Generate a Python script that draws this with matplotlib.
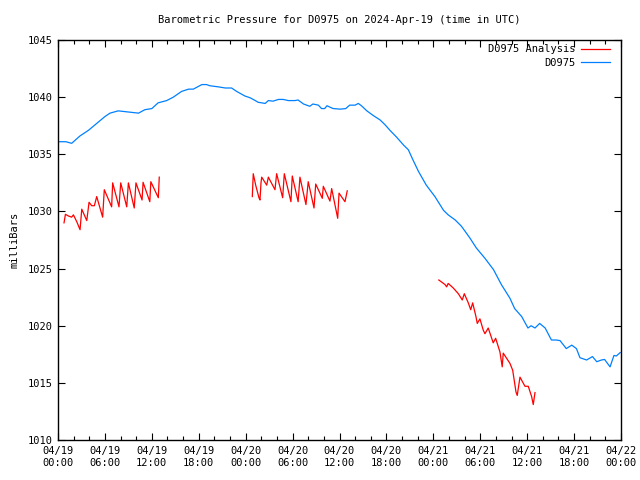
import numpy as np
import matplotlib
matplotlib.use("Agg")
import matplotlib.pyplot as plt

# Hours since 2024-04-19 00:00 UTC
blue_hours = [0.0, 0.26, 1.0, 1.75, 2.8, 3.9, 4.95, 6.0, 6.65, 7.7, 9.0, 10.3, 11.1, 12.0,
              12.8, 13.9, 14.75, 15.8, 16.7, 17.3, 18.4, 19.0, 19.4, 20.5, 21.4, 22.2,
              22.85, 23.9, 24.55, 25.1, 25.6, 26.5, 26.9, 27.5, 28.2, 28.8, 29.45, 30.3,
              30.7, 31.4, 32.2, 32.6, 33.3, 33.7, 34.1, 34.4, 34.85, 35.2, 36.1, 36.8,
              37.3, 38.0, 38.4, 38.8, 39.5, 40.3, 41.2, 41.8, 42.45, 43.3, 44.2, 44.8,
              45.4, 46.1, 47.1, 48.2, 49.3, 49.9, 50.8, 51.6, 52.7, 53.5, 54.6, 55.7,
              56.7, 57.8, 58.4, 59.3, 60.1, 60.5, 61.0, 61.6, 62.3, 63.1, 63.7, 64.2,
              65.0, 65.7, 66.3, 66.75, 67.6, 68.35, 68.9, 69.5, 69.9, 70.6, 71.1, 71.4,
              71.9]
blue_values = [1036.1, 1036.1, 1036.1, 1035.96, 1036.6, 1037.1, 1037.7, 1038.3, 1038.6,
               1038.8, 1038.7, 1038.6, 1038.9, 1039.0, 1039.5, 1039.7, 1040.0, 1040.5,
               1040.7, 1040.7, 1041.1, 1041.1, 1041.0, 1040.9, 1040.8, 1040.8, 1040.5,
               1040.1, 1039.95, 1039.75, 1039.55, 1039.45, 1039.7, 1039.65, 1039.8,
               1039.8, 1039.7, 1039.7, 1039.75, 1039.4, 1039.2, 1039.4, 1039.3, 1039.0,
               1039.0, 1039.25, 1039.1, 1039.0, 1038.95, 1039.0, 1039.3, 1039.3,
               1039.45, 1039.25, 1038.8, 1038.4, 1038.0, 1037.6, 1037.1, 1036.5,
               1035.8, 1035.4, 1034.5, 1033.5, 1032.3, 1031.3, 1030.1, 1029.7, 1029.25,
               1028.7, 1027.65, 1026.8, 1025.9, 1024.9, 1023.6, 1022.4, 1021.5, 1020.8,
               1019.8, 1020.0, 1019.8, 1020.2, 1019.8, 1018.75, 1018.75, 1018.7, 1018.0,
               1018.3, 1018.0, 1017.2, 1017.0, 1017.3, 1016.85, 1017.0, 1017.05,
               1016.4, 1017.4, 1017.35, 1017.65]

red_hours = [0.77, 0.95, 1.33, 1.75, 1.97, 2.4, 2.82, 3.04, 3.68, 3.97, 4.31, 4.65, 4.95,
             5.71, 5.92, 6.86, 6.99, 7.8, 8.02, 8.79, 9.0, 9.75, 9.97, 10.75, 10.88,
             11.74, 11.87, 12.83, 12.95,
             np.nan,
             24.85, 24.97, 25.28, 25.7, 25.83, 25.96, 26.05, 26.69, 26.9, 27.75, 27.96,
             28.73, 28.94, 29.79, 29.96, 30.71, 30.94, 31.71, 32.0, 32.74, 32.96,
             33.8, 33.93, 34.78, 35.0, 35.77, 35.94, 36.7, 36.99,
             np.nan,
             48.7, 49.5, 49.7, 49.9, 50.55, 51.2, 51.7, 51.96, 52.47, 52.78, 53.03,
             53.45, 53.62, 53.96, 54.39, 54.6, 55.02, 55.66, 55.97, 56.52, 56.81,
             56.94, 57.8, 58.15, 58.57, 58.73, 59.08, 59.72, 60.14, 60.57, 60.78, 61.0]
red_values = [1029.0, 1029.75, 1029.6, 1029.5, 1029.7, 1029.1, 1028.4, 1030.2, 1029.2,
              1030.8, 1030.5, 1030.5, 1031.3, 1029.5, 1031.9, 1030.4, 1032.5, 1030.4,
              1032.5, 1030.4, 1032.5, 1030.3, 1032.5, 1031.0, 1032.55, 1030.85, 1032.6,
              1031.2, 1033.0,
              np.nan,
              1031.3, 1033.3, 1032.3, 1031.2, 1031.0, 1032.5, 1033.0, 1032.3, 1033.0,
              1031.9, 1033.3, 1031.2, 1033.3, 1030.85, 1033.1, 1030.85, 1033.0,
              1030.6, 1032.6, 1030.3, 1032.4, 1031.15, 1032.2, 1030.9, 1032.0,
              1029.4, 1031.6, 1030.85, 1031.8,
              np.nan,
              1024.0, 1023.6, 1023.4, 1023.7, 1023.3, 1022.8, 1022.25, 1022.8, 1022.0,
              1021.4, 1022.0, 1020.8, 1020.2, 1020.6, 1019.6, 1019.3, 1019.8, 1018.5,
              1018.9, 1017.7, 1016.4, 1017.6, 1016.7, 1016.1, 1014.2, 1013.9, 1015.5,
              1014.7, 1014.7, 1013.8, 1013.1, 1014.15]

tick_hours = [0, 6, 12, 18, 24, 30, 36, 42, 48, 54, 60, 66, 72]
tick_labels = ["04/19\n00:00", "04/19\n06:00", "04/19\n12:00", "04/19\n18:00",
               "04/20\n00:00", "04/20\n06:00", "04/20\n12:00", "04/20\n18:00",
               "04/21\n00:00", "04/21\n06:00", "04/21\n12:00", "04/21\n18:00",
               "04/22\n00:00"]
y_ticks = [1010, 1015, 1020, 1025, 1030, 1035, 1040, 1045]

plt.rcParams['font.family'] = ['DejaVu Sans Mono']
plt.rcParams['font.size'] = 7.5

fig = plt.figure(figsize=(6.4, 4.8), dpi=100)
ax = fig.add_axes([58/640, 40/480, (621-58)/640, 400/480])

ax.plot(red_hours, red_values, color='#ff0000', lw=0.9, label='D0975 Analysis')
ax.plot(blue_hours, blue_values, color='#0080ff', lw=0.9, label='D0975')

ax.set_xlim(0, 72)
ax.set_ylim(1010, 1045)
ax.set_xticks(tick_hours)
ax.set_xticklabels(tick_labels, linespacing=1.3)
ax.set_xticks(np.arange(0, 73, 2), minor=True)
ax.set_yticks(y_ticks)
ax.tick_params(axis='both', which='both', direction='in', top=True, right=True,
               width=0.8, colors='black')
ax.tick_params(axis='both', which='major', length=5, pad=4)
ax.tick_params(axis='x', which='minor', length=3)
for s in ax.spines.values():
    s.set_linewidth(1.0)

ax.set_ylabel('milliBars', labelpad=6)
ax.set_title('Barometric Pressure for D0975 on 2024-Apr-19 (time in UTC)', fontsize=7.5, pad=12)

leg = ax.legend(loc='upper right', bbox_to_anchor=(1.0, 1.0 + 7/400), frameon=False,
                markerfirst=False, handlelength=2.7, handletextpad=0.6, borderpad=0.4,
                borderaxespad=0.7, labelspacing=0.35, fontsize=7.5)

fig.savefig('out.png', dpi=100)
